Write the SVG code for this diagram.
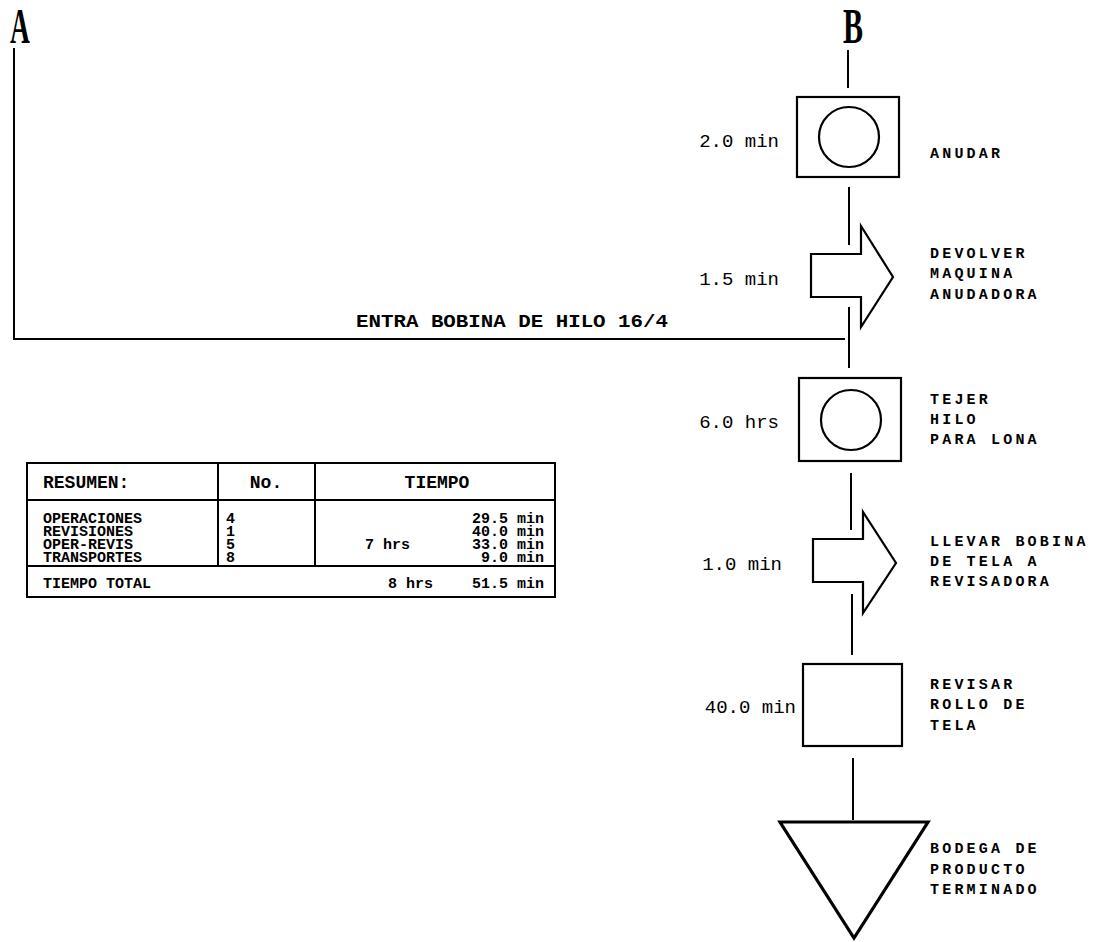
<svg xmlns="http://www.w3.org/2000/svg" width="1118" height="942" viewBox="0 0 1118 942">
<style>
.ln{stroke:#000;stroke-width:2;fill:none}
.sh{stroke:#000;stroke-width:2.2;fill:#fff}
.big{font-family:"Liberation Serif",serif;font-weight:bold;font-size:50px;fill:#000}
.tm{font-family:"Liberation Mono",monospace;font-size:19px;fill:#000;text-anchor:end}
.lb{font-family:"Liberation Mono",monospace;font-weight:bold;font-size:15px;letter-spacing:3.2px;fill:#000}
.hd{font-family:"Liberation Mono",monospace;font-weight:bold;font-size:18px;fill:#000}
.tb{font-family:"Liberation Mono",monospace;font-weight:bold;font-size:15px;fill:#000}
</style>
<rect width="1118" height="942" fill="#fff"/>
<g id="connectors">
<polyline class="ln" points="14,48 14,339 845,339"/>
<line class="ln" x1="848" y1="50" x2="848" y2="88"/>
<line class="ln" x1="849" y1="187" x2="849" y2="245"/>
<line class="ln" x1="849" y1="307" x2="849" y2="368"/>
<line class="ln" x1="851" y1="473" x2="851" y2="530"/>
<line class="ln" x1="852" y1="594" x2="852" y2="655"/>
<line class="ln" x1="853" y1="758" x2="853" y2="820"/>
</g>
<g id="labelA"><text class="big" text-anchor="middle" transform="translate(20,43) scale(0.55,1)">A</text></g>
<g id="labelB"><text class="big" text-anchor="middle" transform="translate(853,43) scale(0.6,1)">B</text></g>
<g id="entra"><text class="hd" x="356" y="327" font-size="20" textLength="312" lengthAdjust="spacingAndGlyphs">ENTRA BOBINA DE HILO 16/4</text></g>
<g id="anudar">
<rect class="sh" x="797" y="97" width="102" height="80"/>
<circle class="sh" cx="849" cy="137" r="30"/>
<text class="tm" x="779" y="147">2.0 min</text>
<text class="lb" x="930" y="158">ANUDAR</text>
</g>
<g id="devolver">
<polygon class="sh" points="811,254 861,254 861,226 893,277 861,327 861,297 811,297"/>
<text class="tm" x="779" y="285">1.5 min</text>
<text class="lb" x="930" y="258">DEVOLVER</text>
<text class="lb" x="930" y="278">MAQUINA</text>
<text class="lb" x="930" y="299">ANUDADORA</text>
</g>
<g id="tejer">
<rect class="sh" x="799" y="378" width="102" height="83"/>
<circle class="sh" cx="851" cy="420" r="30"/>
<text class="tm" x="779" y="428">6.0 hrs</text>
<text class="lb" x="930" y="404">TEJER</text>
<text class="lb" x="930" y="424">HILO</text>
<text class="lb" x="930" y="444">PARA LONA</text>
</g>
<g id="llevar">
<polygon class="sh" points="813,539 863,539 863,512 896,563 863,613 863,582 813,582"/>
<text class="tm" x="782" y="570">1.0 min</text>
<text class="lb" x="930" y="546">LLEVAR BOBINA</text>
<text class="lb" x="930" y="566">DE TELA A</text>
<text class="lb" x="930" y="586">REVISADORA</text>
</g>
<g id="revisar">
<rect class="sh" x="803" y="664" width="99" height="82"/>
<text class="tm" x="796" y="713">40.0 min</text>
<text class="lb" x="930" y="689">REVISAR</text>
<text class="lb" x="930" y="709">ROLLO DE</text>
<text class="lb" x="930" y="730">TELA</text>
</g>
<g id="bodega">
<polygon points="780,822 928,822 854,938" fill="#fff" stroke="#000" stroke-width="3.2" stroke-linejoin="miter"/>
<text class="lb" x="930" y="853">BODEGA DE</text>
<text class="lb" x="930" y="874">PRODUCTO</text>
<text class="lb" x="930" y="894">TERMINADO</text>
</g>
<g id="resumen">
<rect class="ln" x="27" y="463" width="528" height="134"/>
<line class="ln" x1="27" y1="500" x2="555" y2="500"/>
<line class="ln" x1="27" y1="566" x2="555" y2="566"/>
<line class="ln" x1="218" y1="463" x2="218" y2="566"/>
<line class="ln" x1="315" y1="463" x2="315" y2="566"/>
<text class="hd" x="43" y="488" font-size="17">RESUMEN:</text>
<text class="hd" x="266" y="488" font-size="17" text-anchor="middle">No.</text>
<text class="hd" x="437" y="488" font-size="17" text-anchor="middle">TIEMPO</text>
<text class="tb" x="43" y="523">OPERACIONES</text>
<text class="tb" x="43" y="536">REVISIONES</text>
<text class="tb" x="43" y="549">OPER-REVIS</text>
<text class="tb" x="43" y="562">TRANSPORTES</text>
<text class="tb" x="226" y="523">4</text>
<text class="tb" x="226" y="536">1</text>
<text class="tb" x="226" y="549">5</text>
<text class="tb" x="226" y="562">8</text>
<text class="tb" x="544" y="523" text-anchor="end">29.5 min</text>
<text class="tb" x="544" y="536" text-anchor="end">40.0 min</text>
<text class="tb" x="544" y="549" text-anchor="end">33.0 min</text>
<text class="tb" x="544" y="562" text-anchor="end">9.0 min</text>
<text class="tb" x="365" y="549">7 hrs</text>
<text class="tb" x="43" y="588">TIEMPO TOTAL</text>
<text class="tb" x="388" y="588">8 hrs</text>
<text class="tb" x="544" y="588" text-anchor="end">51.5 min</text>
</g>
</svg>
